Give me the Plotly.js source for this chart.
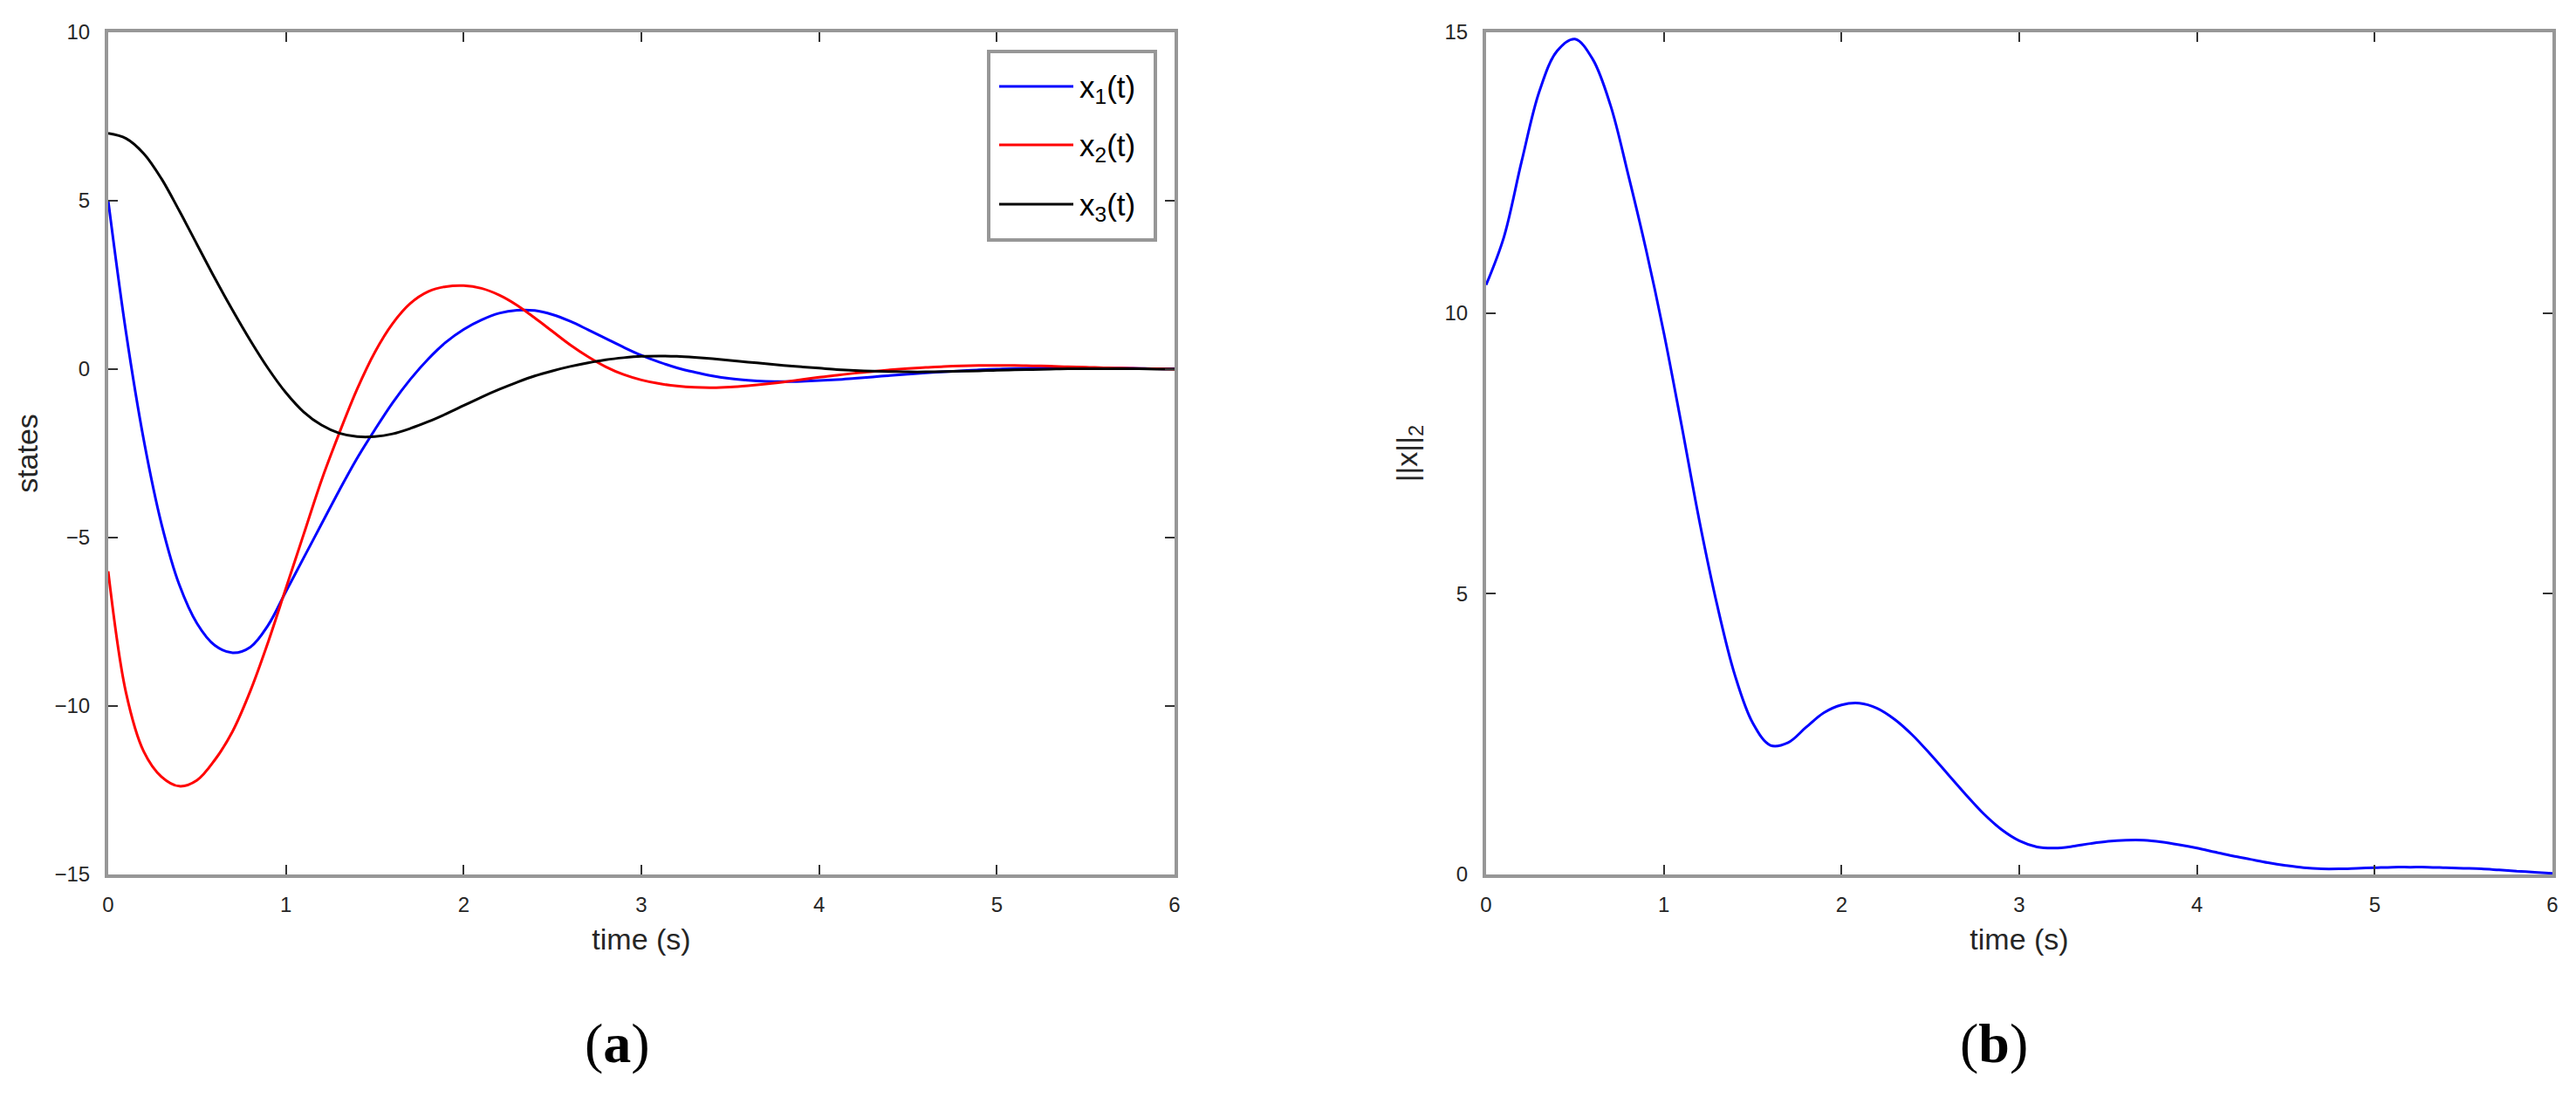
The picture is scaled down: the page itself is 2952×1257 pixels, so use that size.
<!DOCTYPE html>
<html>
<head>
<meta charset="utf-8">
<script src="https://cdn.plot.ly/plotly-3.0.1.min.js"></script>
<style>
  body { margin: 0; background: #fff; }
  #chart { width: 2952px; height: 1257px; }
</style>
</head>
<body>
<div id="chart"></div>
<script>
// time samples (s)
const t = [0.0, 0.1, 0.2, 0.3, 0.4, 0.5, 0.6, 0.7, 0.8, 0.9,
           1.0, 1.1, 1.2, 1.3, 1.4, 1.5, 1.6, 1.7, 1.8, 1.9,
           2.0, 2.1, 2.2, 2.3, 2.4, 2.5, 2.6, 2.7, 2.8, 2.9,
           3.0, 3.1, 3.2, 3.3, 3.4, 3.5, 3.6, 3.7, 3.8, 3.9,
           4.0, 4.1, 4.2, 4.3, 4.4, 4.5, 4.6, 4.7, 4.8, 4.9,
           5.0, 5.1, 5.2, 5.3, 5.4, 5.5, 5.6, 5.7, 5.8, 5.9, 6.0];

// states
const x1 = [5.0, 1.1, -2.1, -4.6, -6.4, -7.55, -8.2, -8.42, -8.25, -7.6,
            -6.6, -5.6, -4.6, -3.6, -2.65, -1.8, -1.0, -0.3, 0.3, 0.8,
            1.18, 1.46, 1.66, 1.75, 1.74, 1.62, 1.42, 1.17, 0.91, 0.65,
            0.41, 0.21, 0.04, -0.09, -0.2, -0.28, -0.33, -0.36, -0.37, -0.36,
            -0.34, -0.31, -0.27, -0.23, -0.19, -0.15, -0.11, -0.08, -0.05, -0.02,
            0.0, 0.02, 0.03, 0.04, 0.04, 0.04, 0.03, 0.03, 0.02, 0.01, 0.01];
const x2 = [-6.0, -9.6, -11.35, -12.1, -12.38, -12.2, -11.6, -10.75, -9.55, -8.1,
            -6.5, -4.9, -3.3, -1.9, -0.6, 0.5, 1.35, 1.95, 2.3, 2.45,
            2.48, 2.4, 2.2, 1.9, 1.52, 1.12, 0.72, 0.37, 0.07, -0.16,
            -0.32, -0.43, -0.5, -0.54, -0.55, -0.53, -0.49, -0.44, -0.38, -0.31,
            -0.24, -0.18, -0.12, -0.07, -0.02, 0.02, 0.05, 0.08, 0.1, 0.11,
            0.11, 0.11, 0.1, 0.09, 0.07, 0.06, 0.04, 0.03, 0.02, 0.01, 0.0];
const x3 = [7.0, 6.85, 6.4, 5.65, 4.7, 3.7, 2.7, 1.75, 0.85, 0.02,
            -0.7, -1.27, -1.66, -1.9, -2.0, -2.0, -1.92, -1.76, -1.56, -1.33,
            -1.08, -0.83, -0.6, -0.39, -0.2, -0.05, 0.08, 0.19, 0.28, 0.34,
            0.38, 0.39, 0.38, 0.35, 0.31, 0.26, 0.21, 0.16, 0.11, 0.07,
            0.03, -0.01, -0.04, -0.06, -0.07, -0.08, -0.08, -0.07, -0.06, -0.05,
            -0.03, -0.02, -0.01, 0.0, 0.01, 0.01, 0.01, 0.01, 0.01, 0.0, 0.0];

// norm
const xnorm = [10.5, 11.35, 12.7, 13.95, 14.67, 14.88, 14.52, 13.7, 12.46, 11.13,
               9.65, 8.0, 6.3, 4.8, 3.55, 2.7, 2.3, 2.35, 2.62, 2.88,
               3.02, 3.05, 2.96, 2.76, 2.48, 2.14, 1.78, 1.42, 1.08, 0.8,
               0.6, 0.49, 0.47, 0.5, 0.55, 0.59, 0.61, 0.61, 0.58, 0.53,
               0.47, 0.4, 0.33, 0.27, 0.21, 0.16, 0.12, 0.1, 0.1, 0.11,
               0.12, 0.13, 0.13, 0.13, 0.12, 0.11, 0.1, 0.08, 0.06, 0.04, 0.02];

const stateNames = ["x<sub>1</sub>(t)", "x<sub>2</sub>(t)", "x<sub>3</sub>(t)"];
const stateColors = ["#0000ff", "#ff0000", "#000000"];
const xTicks = [0, 1, 2, 3, 4, 5, 6];
const yTicksA = [-15, -10, -5, 0, 5, 10];
const yTicksB = [0, 5, 10, 15];

const W = 2952, H = 1257;
const sans = "Liberation Sans, Arial, Helvetica, sans-serif";
const serif = "Liberation Serif, Times New Roman, serif";
const frameGray = "#979797";
const lw = 3;

let data = [x1, x2, x3].map((ys, i) => ({
    type: "scatter", mode: "lines",
    x: t, y: ys, name: stateNames[i],
    line: { color: stateColors[i], width: lw, shape: "spline", smoothing: 1.0 },
    xaxis: "x", yaxis: "y", showlegend: false
}));
data.push({
    type: "scatter", mode: "lines",
    x: t, y: xnorm, name: "||x||<sub>2</sub>",
    line: { color: "#0000ff", width: lw, shape: "spline", smoothing: 1.0 },
    xaxis: "x2", yaxis: "y2", showlegend: false
});

function axis(extra) {
    return Object.assign({
        showline: true, mirror: "ticks", linecolor: frameGray, linewidth: 4,
        ticks: "inside", ticklen: 11, tickwidth: 2, tickcolor: "#333333",
        showgrid: false, zeroline: false, fixedrange: true,
        tickfont: { family: sans, size: 24, color: "#262626" }
    }, extra);
}

const yDom = [1 - 1002 / H, 1 - 37 / H];

// hand-made legend box (MATLAB style, long line samples)
let shapes = [{
    type: "rect", xref: "paper", yref: "paper",
    x0: 1133 / W, x1: 1324 / W, y0: 1 - 275 / H, y1: 1 - 59 / H,
    line: { color: frameGray, width: 4 }, fillcolor: "#ffffff"
}];
let annotations = [];
const rowY = [99, 166, 234];
stateNames.forEach((nm, i) => {
    shapes.push({
        type: "line", xref: "paper", yref: "paper",
        x0: 1145 / W, x1: 1230 / W, y0: 1 - rowY[i] / H, y1: 1 - rowY[i] / H,
        line: { color: stateColors[i], width: lw }
    });
    annotations.push({
        xref: "paper", yref: "paper", x: 1235 / W, y: 1 - (rowY[i] + 3) / H,
        xanchor: "left", yanchor: "middle", showarrow: false,
        text: nm, font: { family: sans, size: 35, color: "#000000" }
    });
});

annotations.push({
    xref: "paper", yref: "paper", x: 707 / W, y: 1 - 1195 / H,
    xanchor: "center", yanchor: "middle", showarrow: false,
    text: "(<b>a</b>)", font: { family: serif, size: 64, color: "#000" }
});
annotations.push({
    xref: "paper", yref: "paper", x: 2285 / W, y: 1 - 1195 / H,
    xanchor: "center", yanchor: "middle", showarrow: false,
    text: "(<b>b</b>)", font: { family: serif, size: 64, color: "#000" }
});

const titleFont = { family: sans, size: 34, color: "#262626" };

let layout = {
    width: W, height: H,
    margin: { l: 0, r: 0, t: 0, b: 0 },
    paper_bgcolor: "#ffffff", plot_bgcolor: "#ffffff",
    showlegend: false,
    xaxis: axis({
        domain: [124 / W, 1346 / W], range: [0, 6], tickvals: xTicks, anchor: "y",
        ticklabelstandoff: 10,
        title: { text: "time (s)", font: titleFont, standoff: 16 }
    }),
    yaxis: axis({
        domain: yDom, range: [-15, 10], tickvals: yTicksA, anchor: "x",
        ticklabelstandoff: 12,
        title: { text: "states", font: titleFont, standoff: 10 }
    }),
    xaxis2: axis({
        domain: [1703 / W, 2925 / W], range: [0, 6], tickvals: xTicks, anchor: "y2",
        ticklabelstandoff: 10,
        title: { text: "time (s)", font: titleFont, standoff: 16 }
    }),
    yaxis2: axis({
        domain: yDom, range: [0, 15], tickvals: yTicksB, anchor: "x2",
        ticklabelstandoff: 12,
        title: { text: "||x||<sub>2</sub>", font: titleFont, standoff: 22 }
    }),
    shapes: shapes,
    annotations: annotations
};

Plotly.newPlot("chart", data, layout, { displayModeBar: false, staticPlot: true });
</script>
</body>
</html>
